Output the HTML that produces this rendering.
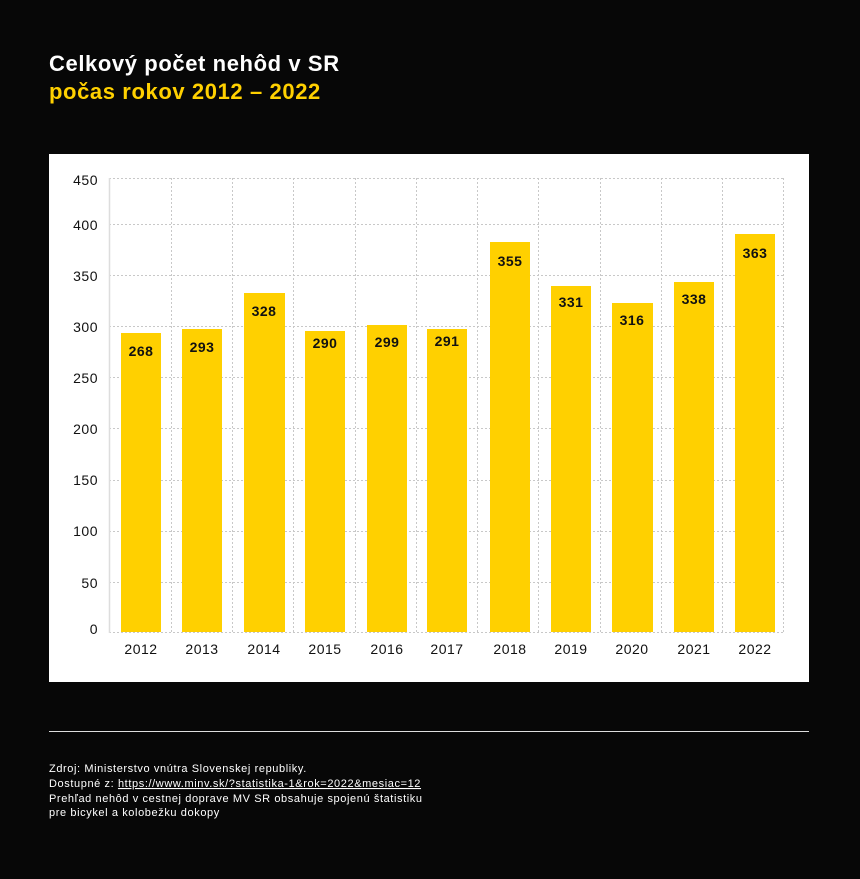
<!DOCTYPE html>
<html><head><meta charset="utf-8"><style>
body{margin:0;background:#070707;width:860px;height:874px;overflow:hidden;font-family:"Liberation Sans",sans-serif;}
</style></head><body>
<svg width="860" height="874" xmlns="http://www.w3.org/2000/svg" font-family="Liberation Sans, sans-serif">
<rect width="860" height="874" fill="#070707"/>
<text x="49" y="71" fill="#fff" font-size="22" font-weight="bold" letter-spacing="0.6">Celkový počet nehôd v SR</text>
<text x="49" y="99" fill="#ffd000" font-size="22" font-weight="bold" letter-spacing="0.6">počas rokov 2012 – 2022</text>
<rect x="49" y="154" width="760" height="528" fill="#fff"/>
<g stroke="#c8c8c8" stroke-dasharray="2,2" stroke-width="1">
<line x1="109" x2="783" y1="178.5" y2="178.5"/><line x1="109" x2="783" y1="224.5" y2="224.5"/>
<line x1="109" x2="783" y1="275.5" y2="275.5"/><line x1="109" x2="783" y1="326.5" y2="326.5"/>
<line x1="109" x2="783" y1="377.5" y2="377.5"/><line x1="109" x2="783" y1="428.5" y2="428.5"/>
<line x1="109" x2="783" y1="480.5" y2="480.5"/><line x1="109" x2="783" y1="531.5" y2="531.5"/>
<line x1="109" x2="783" y1="582.5" y2="582.5"/><line x1="109" x2="783" y1="632.5" y2="632.5"/>
<line y1="178" y2="632" x1="171.5" x2="171.5"/><line y1="178" y2="632" x1="232.5" x2="232.5"/>
<line y1="178" y2="632" x1="293.5" x2="293.5"/><line y1="178" y2="632" x1="355.5" x2="355.5"/>
<line y1="178" y2="632" x1="416.5" x2="416.5"/><line y1="178" y2="632" x1="477.5" x2="477.5"/>
<line y1="178" y2="632" x1="538.5" x2="538.5"/><line y1="178" y2="632" x1="600.5" x2="600.5"/>
<line y1="178" y2="632" x1="661.5" x2="661.5"/><line y1="178" y2="632" x1="722.5" x2="722.5"/>
<line y1="178" y2="632" x1="783.5" x2="783.5"/>
</g>
<line x1="109.5" x2="109.5" y1="178" y2="633" stroke="#ddd" stroke-width="1.5"/>
<g font-size="14" fill="#111" text-anchor="end" letter-spacing="0.5">
<text x="98" y="185">450</text><text x="98" y="230">400</text><text x="98" y="281">350</text>
<text x="98" y="332">300</text><text x="98" y="383">250</text><text x="98" y="434">200</text>
<text x="98" y="485">150</text><text x="98" y="536">100</text><text x="98" y="588">50</text>
<text x="98" y="634">0</text>
</g>
<g fill="#ffd000">
<rect x="121" y="333" width="40" height="299"/><rect x="182" y="329" width="40" height="303"/>
<rect x="244" y="293" width="41" height="339"/><rect x="305" y="331" width="40" height="301"/>
<rect x="367" y="325" width="40" height="307"/><rect x="427" y="329" width="40" height="303"/>
<rect x="490" y="242" width="40" height="390"/><rect x="551" y="286" width="40" height="346"/>
<rect x="612" y="303" width="41" height="329"/><rect x="674" y="282" width="40" height="350"/>
<rect x="735" y="234" width="40" height="398"/>
</g>
<g font-size="14" font-weight="bold" fill="#111" text-anchor="middle" letter-spacing="0.5">
<text x="141" y="356">268</text><text x="202" y="352">293</text><text x="264" y="316">328</text>
<text x="325" y="348">290</text><text x="387" y="347">299</text><text x="447" y="346">291</text>
<text x="510" y="266">355</text><text x="571" y="307">331</text><text x="632" y="325">316</text>
<text x="694" y="304">338</text><text x="755" y="258">363</text>
</g>
<g font-size="14" fill="#111" text-anchor="middle" letter-spacing="0.5">
<text x="141" y="654">2012</text><text x="202" y="654">2013</text><text x="264" y="654">2014</text>
<text x="325" y="654">2015</text><text x="387" y="654">2016</text><text x="447" y="654">2017</text>
<text x="510" y="654">2018</text><text x="571" y="654">2019</text><text x="632" y="654">2020</text>
<text x="694" y="654">2021</text><text x="755" y="654">2022</text>
</g>
<line x1="49" x2="809" y1="731.5" y2="731.5" stroke="#ddd" stroke-width="1"/>
<g font-size="11" fill="#fff" letter-spacing="0.6">
<text x="49" y="772">Zdroj: Ministerstvo vnútra Slovenskej republiky.</text>
<text x="49" y="787">Dostupné z: <tspan text-decoration="underline">https://www.minv.sk/?statistika-1&amp;rok=2022&amp;mesiac=12</tspan></text>
<text x="49" y="802">Prehľad nehôd v cestnej doprave MV SR obsahuje spojenú štatistiku</text>
<text x="49" y="816">pre bicykel a kolobežku dokopy</text>
</g>
</svg>
</body></html>
